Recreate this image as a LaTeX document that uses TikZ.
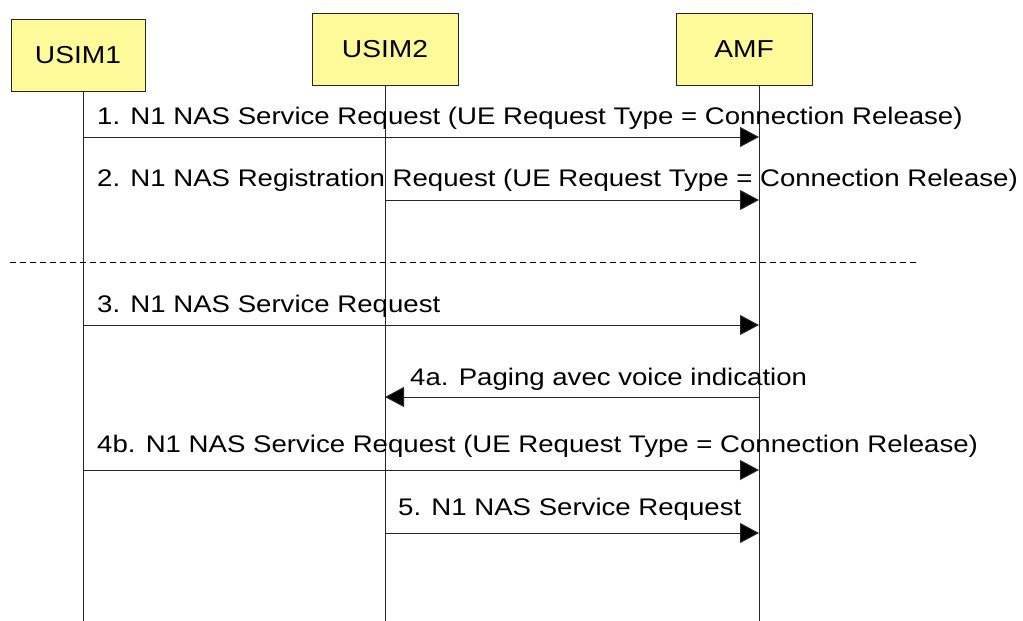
\documentclass[tikz,border=0pt]{standalone}
\usepackage{fontspec}
\setmainfont[FakeStretch=1.15]{Liberation Sans}
\usetikzlibrary{arrows.meta}
\begin{document}
\begin{tikzpicture}[x=1pt,y=-1pt,
  entity/.style={draw=black!85,fill=yellow!40,line width=0.8pt,minimum width=134pt,minimum height=72pt,inner sep=0pt,font=\fontsize{24.5}{28}\selectfont},
  lifeline/.style={draw=black!85,line width=1pt},
  msg/.style={draw=black!85,line width=1pt,-{Triangle[length=19pt,width=20pt,fill=black]}},
  lbl/.style={anchor=base west,inner sep=0pt,font=\fontsize{24}{28}\selectfont},
  sep/.style={draw=black,line width=1pt,dash pattern=on 6pt off 4pt}]
\useasboundingbox (0,0) rectangle (1023,621);
% participants
\node[entity] (u1) at (78,55) {USIM1};
\node[entity,minimum width=146pt] (u2) at (385,49) {USIM2};
\node[entity,minimum width=136pt] (amf) at (744,49) {AMF};
% lifeline feet
\coordinate (u1end) at (83,621);
\coordinate (u2end) at (385,621);
\coordinate (amfend) at (759,621);
\draw[lifeline] (u1end |- u1.south) -- (u1end);
\draw[lifeline] (u2end |- u2.south) -- (u2end);
\draw[lifeline] (amfend |- amf.south) -- (amfend);
% messages
\draw[msg] (u1end |- 0,137) -- (amfend |- 0,137);
\node[lbl] (m1) at (97,124) {1. N1 NAS Service Request (UE Request Type = Connection Release)};
\draw[msg] (u2end |- 0,200) -- (amfend |- 0,200);
\node[lbl] (m2) at (97,186) {2. N1 NAS Registration Request (UE Request Type = Connection Release)};
\coordinate (sepl) at (10,262);
\coordinate (sepr) at (916,262);
\draw[sep] (sepl) -- (sepr);
\draw[msg] (u1end |- 0,325) -- (amfend |- 0,325);
\node[lbl] (m3) at (97,312) {3. N1 NAS Service Request};
\draw[msg] (amfend |- 0,397) -- (u2end |- 0,397);
\node[lbl] (m4a) at (410,385) {4a. Paging avec voice indication};
\draw[msg] (u1end |- 0,470) -- (amfend |- 0,470);
\node[lbl] (m4b) at (97,452) {4b. N1 NAS Service Request (UE Request Type = Connection Release)};
\draw[msg] (u2end |- 0,533) -- (amfend |- 0,533);
\node[lbl] (m5) at (398,515) {5. N1 NAS Service Request};
\end{tikzpicture}
\end{document}
